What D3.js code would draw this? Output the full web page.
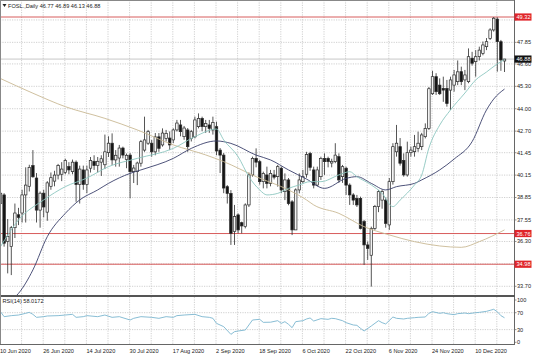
<!DOCTYPE html>
<html><head><meta charset="utf-8">
<script src="https://cdn.jsdelivr.net/npm/d3@7"></script>
<style>body{margin:0;background:#fff;} svg{display:block;font-family:"Liberation Sans",Arial,sans-serif;}</style>
</head><body><svg id="c" width="536" height="357"></svg>
<script>
// ---- data ----
const symbolTitle = "FOSL.,Daily  46.77 46.89 46.13 46.88";
const opens = [38.5,39.0,36.3,36.0,37.1,37.85,37.95,39.0,39.5,40.7,
39.98,38.12,39.1,38.0,39.5,39.8,40.15,40.2,40.3,40.65,
40.35,40.9,39.6,40.45,39.6,40.55,40.95,40.7,40.9,40.75,
41.45,42.0,41.03,41.14,41.72,41.05,41.31,40.35,40.35,40.84,
41.6,42.0,42.0,41.5,42.37,41.9,42.28,42.3,42.19,42.77,
43.06,42.38,42.77,42.28,42.37,42.96,43.44,42.96,43.06,42.77,
42.96,41.6,41.31,39.48,39.09,36.87,37.84,37.39,37.16,38.42,
40.16,41.12,40.93,39.77,40.16,39.67,40.16,40.06,40.55,39.19,
39.87,38.6,36.97,39.29,39.77,40.2,41.4,40.45,39.57,40.06,
41.12,41.12,40.85,40.93,41.22,40.06,40.55,39.57,39.0,38.8,
38.8,37.45,36.1,35.5,37.06,38.32,38.7,38.7,37.26,39.77,
41.5,41.8,41.0,40.16,41.45,41.51,41.7,41.8,42.38,42.86,
44.87,45.86,45.37,45.18,45.18,45.08,45.37,45.57,46.15,45.67,
45.57,46.93,46.73,47.02,47.21,47.6,48.08,48.57,49.2,47.89,
46.77];
const highs = [40.0,39.1,37.6,37.2,38.5,38.25,39.3,40.6,40.75,41.6,
40.27,39.2,39.3,39.8,40.3,40.4,40.8,40.9,41.1,40.9,
41.05,41.0,40.7,40.7,40.7,41.2,41.3,41.2,41.3,42.5,
42.4,42.57,41.6,41.9,41.8,41.4,41.43,40.74,40.93,42.19,
43.54,42.77,42.19,42.59,42.59,42.86,42.77,42.68,42.86,43.35,
43.35,43.0,42.88,42.77,43.54,43.73,43.54,43.35,43.35,43.54,
43.25,41.72,41.43,39.57,39.28,38.42,37.93,37.45,38.51,40.3,
41.22,41.7,41.03,40.35,40.64,40.45,40.45,40.74,40.64,40.25,
39.98,38.7,39.38,40.25,40.45,41.5,41.5,40.64,40.64,41.22,
41.41,41.22,41.1,42.0,41.41,40.74,40.64,39.67,39.1,39.0,
38.9,37.55,36.29,37.16,38.42,39.29,39.3,38.85,39.98,42.0,
43.06,42.3,41.41,42.09,41.8,42.48,42.67,42.6,43.15,45.26,
46.2,46.06,45.76,45.86,45.67,45.86,46.25,46.8,46.44,46.25,
47.5,47.3,47.4,47.6,47.9,48.1,48.67,49.32,49.3,47.99,
46.89];
const lows = [37.5,36.0,34.45,34.35,36.5,37.25,37.4,37.4,39.2,40.0,
37.4,37.1,37.7,37.5,39.3,39.5,39.9,39.8,40.2,40.2,
40.2,38.6,38.5,39.3,39.1,40.3,40.45,40.3,40.1,40.5,
41.2,40.74,40.64,40.64,41.12,40.55,38.8,39.69,39.57,40.64,
41.5,41.9,41.22,41.3,41.5,41.8,42.1,41.6,42.0,42.68,
42.4,42.2,41.5,42.1,42.28,42.86,42.7,42.6,42.6,42.5,
41.3,40.27,39.1,38.5,36.1,36.1,36.77,36.77,37.06,38.3,
40.06,40.6,39.6,39.38,39.38,39.5,39.9,39.48,39.1,38.7,
38.4,36.67,36.97,39.09,39.67,40.0,40.4,39.38,39.5,39.87,
40.16,40.6,40.6,40.84,39.7,39.7,39.0,38.42,38.42,38.3,
37.0,34.94,35.23,33.68,36.97,38.0,38.2,37.1,36.97,39.6,
41.22,40.7,40.06,40.06,41.22,41.22,41.5,41.6,42.28,42.77,
44.8,44.8,44.8,44.4,44.12,43.93,44.99,45.37,45.37,45.08,
45.48,46.5,45.86,46.8,47.1,47.4,47.99,48.47,46.15,46.2,
46.13];
const closes = [39.1,36.2,36.6,37.1,37.95,37.7,39.0,39.57,40.6,40.05,
38.12,39.1,38.3,39.7,40.0,40.15,40.7,40.5,41.0,40.45,
40.9,39.6,40.5,39.6,40.45,41.0,40.7,40.95,41.1,41.5,
42.0,41.03,41.3,41.72,41.31,41.3,40.35,40.56,40.85,42.09,
42.19,42.67,41.5,42.37,41.7,42.59,42.57,41.9,42.77,43.17,
42.67,42.88,41.8,42.67,43.35,43.44,42.96,43.15,42.86,43.2,
41.55,41.31,39.4,39.09,36.77,37.74,36.97,37.2,38.42,40.16,
41.12,40.9,39.77,40.25,39.67,40.25,40.03,40.64,39.29,39.87,
38.5,36.97,39.29,39.87,40.06,41.35,40.6,39.57,40.45,41.12,
40.93,40.93,40.95,41.31,39.87,40.64,39.57,39.0,38.7,38.42,
37.06,36.1,35.9,37.06,38.32,39.19,39.2,37.35,39.77,41.8,
42.0,40.84,40.16,41.45,41.6,41.8,42.0,42.48,42.86,45.16,
45.86,44.99,44.87,45.08,44.3,45.67,45.96,46.14,45.57,45.96,
47.02,46.64,47.02,47.4,47.7,47.89,48.57,49.25,47.89,46.83,
46.88];

// moving averages (bar index, value)
const maFastIdx = [0,5,12,18,24,30,38,48,54,60,62,66,69,72,74,77,80,83,86,89,94,97,99,103,106,109,111,115,117,119,122,125,129,132,135,138,140];
const maFastVal = [36.0,37.55,38.71,39.48,39.98,40.64,41.12,41.7,42.38,42.82,42.19,41.22,40.06,39.29,39.0,39.09,39.38,39.58,39.77,39.77,40.16,40.35,40.06,39.58,39.09,38.32,38.7,39.58,40.15,41.72,43.05,43.93,44.91,45.67,46.13,46.6,46.86];
const maMidIdx = [3,5,9,13,18,22,27,30,36,39,48,53,60,64,71,75,80,85,90,96,99,103,107,110,115,117,122,126,131,135,137,140];
const maMidVal = [32.9,33.29,34.65,36.58,37.93,38.71,39.29,39.67,40.25,40.45,41.12,41.7,42.13,41.99,41.31,41.03,40.45,39.92,39.38,39.96,40.06,39.67,39.29,39.48,39.67,39.87,40.45,41.08,42.09,43.93,44.56,45.14];
const maSlowIdx = [0,9,18,29,38,48,57,62,71,80,85,87,94,101,108,115,122,128,133,140];
const maSlowVal = [45.75,44.9,44.12,43.44,42.77,41.9,41.32,40.93,40.06,39.29,38.71,38.42,37.93,37.16,36.68,36.29,36.04,35.96,36.29,36.97];

// RSI(14)
const rsiIdx = [0,1,3,5,7,8,9,10,12,13,16,18,20,21,23,24,27,29,31,33,36,37,39,42,44,46,48,49,51,54,56,58,59,60,62,64,65,66,68,69,70,72,73,75,77,78,79,80,81,82,84,85,86,87,89,91,92,93,95,96,98,99,100,101,103,105,106,107,109,110,112,113,115,116,118,119,120,122,123,124,126,127,129,130,132,133,135,136,137,138,139,140];
const rsiVal = [72.4,60.6,63.0,64.5,68.5,70.8,66.1,59.0,60.6,62.2,63.0,64.5,66.1,59.0,60.6,63.0,60.6,64.5,59.0,60.6,52.7,56.7,60.6,59.0,56.7,60.6,59.0,63.0,64.5,66.1,60.6,59.0,56.7,44.8,37.0,18.8,25.1,26.7,29.1,40.9,52.7,54.3,47.2,47.5,51.1,44.8,48.8,42.5,34.6,48.8,51.1,55.1,57.5,50.3,55.9,54.3,56.7,55.9,51.1,46.4,40.9,40.1,33.0,26.7,38.6,51.1,46.4,43.3,59.8,56.7,55.1,56.7,58.2,59.0,59.8,68.5,72.4,68.5,70.0,67.7,65.3,67.7,69.2,67.7,70.0,70.8,73.2,75.6,78.0,72.4,63.0,58.0];
const rsiLabel = "RSI(14) 58.0172";

const priceTicks = [49.15,47.85,46.60,45.30,44.00,42.70,41.45,40.15,38.85,37.55,36.30,35.00,33.70];
const levelLines = [49.32,36.76,34.98];
const bidPrice = 46.88;
const rsiTicks = [100,70,30,0];
const rsiLevels = [70,30];
const dateLabels = ["10 Jun 2020","26 Jun 2020","14 Jul 2020","30 Jul 2020","17 Aug 2020","2 Sep 2020","18 Sep 2020","6 Oct 2020","22 Oct 2020","6 Nov 2020","24 Nov 2020","10 Dec 2020"];
const dateLabelIdx = [0,12,24,36,48,60,72,84,96,108,120,132];

// ---- layout ----
const plotR = 514, mainBot = 295, rsiTop = 297, rsiBot = 344;
const svg = d3.select('#c');
const x = d3.scaleLinear().domain([0, 140]).range([0.5, 504.5]);
const y = d3.scaleLinear().domain([33.137, 50.307]).range([296, 0]);
const yr = d3.scaleLinear().domain([0, 100]).range([342.3, 300]);
const FS = 5.6;

const defs = svg.append('defs');
defs.append('clipPath').attr('id','clipMain').append('rect').attr('x',0).attr('y',0).attr('width',plotR).attr('height',mainBot);
defs.append('clipPath').attr('id','clipRsi').append('rect').attr('x',0).attr('y',rsiTop).attr('width',plotR).attr('height',rsiBot-rsiTop);

const gridCol = '#c4c4c4';
// vertical grid
const vgrid = d3.range(0, 141, 6);
svg.append('g').selectAll('line').data(vgrid).join('line')
  .attr('x1', d => x(d) - 0.5).attr('x2', d => x(d) - 0.5)
  .attr('y1', 0).attr('y2', mainBot)
  .attr('stroke', gridCol).attr('stroke-width', 0.8).attr('stroke-dasharray', '1.2,1.2');
svg.append('g').selectAll('line').data(vgrid).join('line')
  .attr('x1', d => x(d) - 0.5).attr('x2', d => x(d) - 0.5)
  .attr('y1', rsiTop).attr('y2', rsiBot)
  .attr('stroke', gridCol).attr('stroke-width', 0.8).attr('stroke-dasharray', '1.2,1.2');
// horizontal grid
svg.append('g').selectAll('line').data(priceTicks).join('line')
  .attr('x1', 0).attr('x2', plotR).attr('y1', d => y(d)).attr('y2', d => y(d))
  .attr('stroke', gridCol).attr('stroke-width', 0.8).attr('stroke-dasharray', '1.2,1.2');
svg.append('g').selectAll('line').data(rsiLevels).join('line')
  .attr('x1', 0).attr('x2', plotR).attr('y1', d => yr(d)).attr('y2', d => yr(d))
  .attr('stroke', gridCol).attr('stroke-width', 0.8).attr('stroke-dasharray', '1.2,1.2');

// level lines
const main = svg.append('g').attr('clip-path', 'url(#clipMain)');
main.selectAll('line.lvl').data(levelLines).join('line').attr('class','lvl')
  .attr('x1', 0).attr('x2', plotR).attr('y1', d => y(d)).attr('y2', d => y(d))
  .attr('stroke', '#d24a4a').attr('stroke-width', 0.9);
main.append('line').attr('x1',0).attr('x2',plotR).attr('y1',y(bidPrice)).attr('y2',y(bidPrice))
  .attr('stroke','#b0b0b0').attr('stroke-width',0.7);

// candles
const bars = closes.map((c, i) => ({i, o: opens[i], h: highs[i], l: lows[i], c}));
main.selectAll('line.wick').data(bars).join('line').attr('class','wick')
  .attr('x1', d => x(d.i)).attr('x2', d => x(d.i))
  .attr('y1', d => y(d.h)).attr('y2', d => y(d.l))
  .attr('stroke', '#2a2a2a').attr('stroke-width', 0.8);
main.selectAll('rect.body').data(bars).join('rect').attr('class','body')
  .attr('x', d => x(d.i) - 1.25).attr('width', 2.5)
  .attr('y', d => y(Math.max(d.o, d.c)))
  .attr('height', d => Math.max(0.8, Math.abs(y(d.o) - y(d.c))))
  .attr('fill', d => d.c >= d.o ? '#f4f4f4' : '#151515')
  .attr('stroke', '#2a2a2a').attr('stroke-width', 0.7);

// moving averages
function maLine(idx, val, col) {
  const pts = idx.map((d, k) => [x(d), y(val[k])]);
  main.append('path').attr('d', d3.line().curve(d3.curveMonotoneX)(pts))
    .attr('fill', 'none').attr('stroke', col).attr('stroke-width', 0.9);
}
maLine(maSlowIdx, maSlowVal, '#c9b994');
maLine(maMidIdx, maMidVal, '#3a3f6b');
maLine(maFastIdx, maFastVal, '#8cc6c0');

// RSI
const rsiG = svg.append('g').attr('clip-path', 'url(#clipRsi)');
rsiG.append('path').attr('d', d3.line()(rsiIdx.map((d, k) => [x(d), yr(rsiVal[k])])))
  .attr('fill', 'none').attr('stroke', '#7ab6cf').attr('stroke-width', 0.9);

// frames
svg.append('line').attr('x1', plotR + 0.5).attr('x2', plotR + 0.5).attr('y1', 0).attr('y2', rsiBot)
  .attr('stroke', '#666').attr('stroke-width', 1);
svg.append('line').attr('x1', 0).attr('x2', plotR + 1).attr('y1', 296).attr('y2', 296)
  .attr('stroke', '#555').attr('stroke-width', 2);
svg.append('line').attr('x1', 0).attr('x2', plotR + 1).attr('y1', rsiBot + 0.5).attr('y2', rsiBot + 0.5)
  .attr('stroke', '#666').attr('stroke-width', 1);
svg.append('line').attr('x1', 0.5).attr('x2', 0.5).attr('y1', 0).attr('y2', rsiBot)
  .attr('stroke', '#888').attr('stroke-width', 1);
svg.append('line').attr('x1', 0).attr('x2', plotR).attr('y1', 0.5).attr('y2', 0.5)
  .attr('stroke', '#888').attr('stroke-width', 1);

// right axis ticks + labels (labels hidden under level boxes are skipped, as in the reference)
const shownTicks = priceTicks.filter(d => levelLines.every(v => Math.abs(y(v) - y(d)) > 6));
const axR = svg.append('g').attr('font-size', FS).attr('fill', '#222');
axR.selectAll('line').data(priceTicks).join('line')
  .attr('x1', plotR).attr('x2', plotR + 2.5).attr('y1', d => y(d)).attr('y2', d => y(d))
  .attr('stroke', '#666').attr('stroke-width', 0.7);
axR.selectAll('text').data(shownTicks).join('text')
  .attr('x', plotR + 3).attr('y', d => y(d)).attr('dy', '0.35em').text(d => d.toFixed(2));
const axRr = svg.append('g').attr('font-size', FS).attr('fill', '#222');
axRr.selectAll('line').data(rsiTicks).join('line')
  .attr('x1', plotR).attr('x2', plotR + 2.5).attr('y1', d => yr(d)).attr('y2', d => yr(d))
  .attr('stroke', '#666').attr('stroke-width', 0.7);
axRr.selectAll('text').data(rsiTicks).join('text')
  .attr('x', plotR + 3).attr('y', d => yr(d)).attr('dy', '0.35em').text(d => d);

// level labels
function priceBox(v, fill) {
  svg.append('rect').attr('x', plotR + 0.5).attr('y', y(v) - 3.6).attr('width', 17).attr('height', 7.2).attr('fill', fill);
  svg.append('text').attr('x', plotR + 2.5).attr('y', y(v)).attr('dy', '0.35em')
    .attr('font-size', FS).attr('fill', '#fff').text(v.toFixed(2));
}
levelLines.forEach(v => priceBox(v, '#e0252a'));
priceBox(bidPrice, '#111');

// date labels
svg.append('g').attr('font-size', FS).attr('fill', '#222')
  .selectAll('text').data(dateLabels).join('text')
  .attr('x', (d, k) => x(dateLabelIdx[k]) - 0.5).attr('y', 353).text(d => d);

// titles
svg.append('path').attr('d', 'M2.5,4 L6.5,4 L4.5,7 Z').attr('fill', '#222');
svg.append('text').attr('x', 8).attr('y', 7.5).attr('font-size', FS).attr('fill', '#222').text(symbolTitle);
svg.append('text').attr('x', 2.5).attr('y', 303).attr('font-size', FS).attr('fill', '#222').text(rsiLabel);
</script>
</body></html>
